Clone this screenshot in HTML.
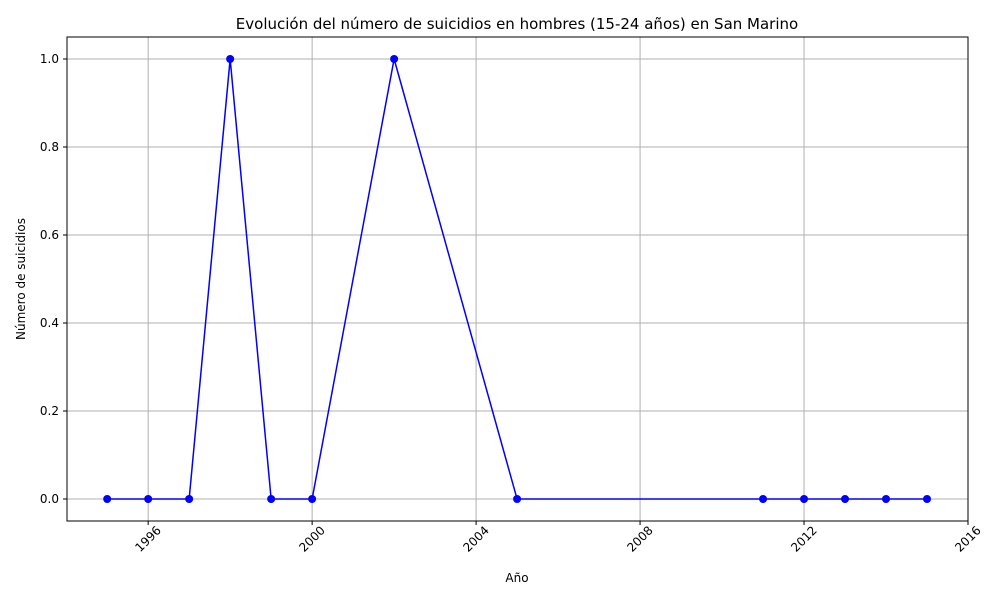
<!DOCTYPE html>
<html><head><meta charset="utf-8"><style>
body{margin:0;background:#fff;font-family:"Liberation Sans","DejaVu Sans",sans-serif}
svg text{font-family:"DejaVu Sans","Liberation Sans",sans-serif}
</style></head><body>
<svg id="chart" width="1000" height="600" xmlns="http://www.w3.org/2000/svg">
<rect width="1000" height="600" fill="#fff"/>
<g id="grid"></g><g id="axes"></g><g id="series"></g>
<text x="517" y="29" text-anchor="middle" font-size="15">Evolución del número de suicidios en hombres (15-24 años) en San Marino</text>
<text x="517" y="582" text-anchor="middle" font-size="12">Año</text>
<text x="25" y="279" text-anchor="middle" font-size="12" transform="rotate(-90 25 279)">Número de suicidios</text>
</svg>
<script>
const years=[1995,1996,1997,1998,1999,2000,2002,2005,2011,2012,2013,2014,2015];
const values=[0,0,0,1,0,0,1,0,0,0,0,0,0];
const xTicks=[1996,2000,2004,2008,2012,2016];
const yTicks=[0.0,0.2,0.4,0.6,0.8,1.0];
const L=67,R=968,T=37,B=521;
const x0=1994.02,x1=2016,y0=-0.05,y1=1.05;
const sx=v=>L+(v-x0)/(x1-x0)*(R-L);
const sy=v=>B-(v-y0)/(y1-y0)*(B-T);
const NS="http://www.w3.org/2000/svg";
function mk(t,a,p){const e=document.createElementNS(NS,t);for(const k in a)e.setAttribute(k,a[k]);p.appendChild(e);return e;}
const g=document.getElementById('grid'),ax=document.getElementById('axes'),s=document.getElementById('series');
xTicks.forEach(t=>{const x=sx(t);
const l=mk('line',{x1:x,x2:x,y1:T,y2:B,stroke:'#b0b0b0','stroke-width':1},g);


mk('line',{x1:x,x2:x,y1:B,y2:B+4,stroke:'#000'},ax);
const cy=B+18;
const tx=mk('text',{x:x,y:cy+4,'font-size':12,'text-anchor':'middle',transform:`rotate(-45 ${x} ${cy})`},ax);
tx.textContent=t;

});
yTicks.forEach(t=>{const y=sy(t);
const l=mk('line',{x1:L,x2:R,y1:y,y2:y,stroke:'#b0b0b0','stroke-width':1},g);


mk('line',{x1:L-4,x2:L,y1:y,y2:y,stroke:'#000'},ax);
const tx=mk('text',{x:L-8,y:y+4,'font-size':12,'text-anchor':'end'},ax);
tx.textContent=t.toFixed(1);

});
const fr=mk('rect',{x:L,y:T,width:R-L,height:B-T,fill:'none',stroke:'#000','stroke-width':1},ax);


const pl=mk('polyline',{points:years.map((y,i)=>sx(y)+','+sy(values[i])).join(' '),fill:'none',stroke:'#0000ff','stroke-width':1.5},s);


years.forEach((y,i)=>{const c=mk('circle',{cx:sx(y),cy:sy(values[i]),r:4,fill:'#0000ff'},s);

});
</script>
</body></html>
